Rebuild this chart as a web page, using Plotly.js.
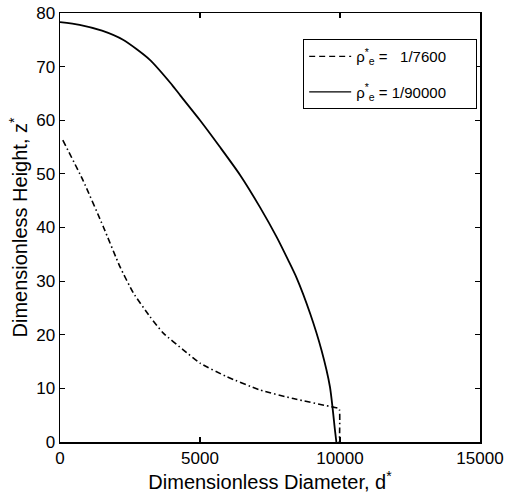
<!DOCTYPE html>
<html>
<head>
<meta charset="utf-8">
<script src="https://cdn.plot.ly/plotly-3.0.1.min.js"></script>
<style>
  html, body { margin: 0; padding: 0; background: #fff; }
  #chart { width: 505px; height: 497px; }
</style>
</head>
<body>
<div id="chart"></div>
<script>
// Profile for rho*_e = 1/90000 (solid line)
const diam90000 = [0, 700, 1500, 2250, 3200, 4000, 4300, 5000, 5700, 6430, 7140, 7740, 8150, 8450, 8930, 9340, 9640, 9820, 9870];
const height90000 = [78.3, 77.8, 76.7, 75.0, 71.3, 66.6, 64.6, 60.0, 55.1, 49.8, 43.8, 38.2, 33.9, 30.6, 24.0, 17.1, 10.3, 2.2, 0];

// Profile for rho*_e = 1/7600 (dash-dot line)
const diam7600 = [100, 830, 1550, 2140, 2620, 3210, 3690, 4400, 5000, 5950, 7140, 8330, 9760, 9940, 9980, 9980];
const height7600 = [56.3, 48.7, 40.1, 32.7, 27.8, 23.4, 20.3, 17.2, 14.7, 12.2, 9.7, 8.1, 6.5, 6.3, 6.0, 0];

// Legend labels (trailing no-break spaces pad the legend box)
const pad = "\u00a0".repeat(6);
const label7600 = "ρ<sup>*</sup><sub>e</sub> =   1/7600" + pad;
const label90000 = "ρ<sup>*</sup><sub>e</sub> = 1/90000" + pad;

// Axis ticks
const xTicks = [0, 5000, 10000, 15000];
const yTicks = [0, 10, 20, 30, 40, 50, 60, 70, 80];

const FONT = "Liberation Sans, Arial, Helvetica, sans-serif";

const traces = [
  {
    x: diam7600, y: height7600, type: "scatter", mode: "lines",
    line: { color: "#000", width: 1.6, dash: "6px,3px,1.5px,3px", shape: "spline", smoothing: 0.5 },
    showlegend: false, hoverinfo: "skip"
  },
  {
    x: diam90000, y: height90000, type: "scatter", mode: "lines",
    line: { color: "#000", width: 1.8, shape: "spline", smoothing: 0.7 },
    showlegend: false, hoverinfo: "skip"
  },
  // legend entries
  {
    x: [null], y: [null], type: "scatter", mode: "lines", name: label7600,
    legendgroup: "a", line: { color: "#000", width: 1.4, dash: "6px,4px" }
  },
  {
    x: [null], y: [null], type: "scatter", mode: "lines", name: label90000,
    legendgroup: "b", line: { color: "#000", width: 1.4 }
  }
];

const axisCommon = {
  showline: true, linecolor: "#000", linewidth: 1.5, mirror: "ticks",
  ticks: "inside", ticklen: 5, tickwidth: 1.2, tickcolor: "#000",
  showgrid: false, zeroline: false, fixedrange: true,
  tickfont: { family: FONT, size: 17, color: "#000" }
};

const layout = {
  width: 505, height: 497,
  margin: { l: 60, r: 25, t: 13, b: 55 },
  paper_bgcolor: "#fff", plot_bgcolor: "#fff",
  font: { family: FONT, color: "#000" },
  xaxis: Object.assign({}, axisCommon, {
    range: [0, 15000], tickvals: xTicks, ticktext: xTicks.map(String),
    title: { text: "Dimensionless Diameter, d<sup>*</sup>", font: { family: FONT, size: 20, color: "#000" }, standoff: 4 }
  }),
  yaxis: Object.assign({}, axisCommon, {
    range: [0, 80], tickvals: yTicks, ticktext: yTicks.map(String),
    title: { text: "Dimensionless Height, z<sup>*</sup>", font: { family: FONT, size: 20, color: "#000" }, standoff: 3 }
  }),
  showlegend: true,
  legend: {
    x: 0.579, y: 0.939, xanchor: "left", yanchor: "top",
    bgcolor: "#fff", bordercolor: "#000", borderwidth: 1,
    font: { family: FONT, size: 15, color: "#000" },
    itemwidth: 42, tracegroupgap: 13
  }
};

Plotly.newPlot("chart", traces, layout, { staticPlot: true, displayModeBar: false });
</script>
</body>
</html>
